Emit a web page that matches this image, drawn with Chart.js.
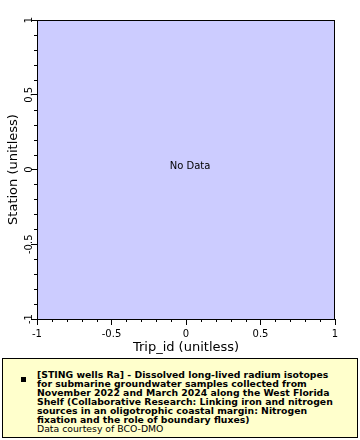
<!DOCTYPE html>
<html>
<head>
<meta charset="utf-8">
<script src="https://cdn.jsdelivr.net/npm/chart.js@4/dist/chart.umd.min.js"></script>
<style>
  html, body { margin: 0; padding: 0; background: #fff; }
  #wrap { position: relative; width: 360px; height: 440px; }
  #chartBox { position: absolute; left: 0; top: 0; width: 360px; height: 355px; }
  #legend {
    position: absolute; left: 2px; top: 358px; width: 354px; height: 78px;
    background: #ffffcc; border: 1px solid #000;
    font-family: "DejaVu Sans", sans-serif; font-size: 9.3px; line-height: 9px;
  }
  #legend .mark { position: absolute; left: 18px; top: 18px; width: 5px; height: 5px; background: #000; }
  #legend .txt { position: absolute; left: 34px; top: 11px; width: 320px; white-space: nowrap; }
  #legend b { font-weight: bold; }
</style>
</head>
<body>
<div id="wrap">
  <div id="chartBox"><canvas id="chart" width="360" height="355"></canvas></div>
  <div id="legend">
    <div class="mark"></div>
    <div class="txt"><b>[STING wells Ra] - Dissolved long-lived radium isotopes<br>for submarine groundwater samples collected from<br>November 2022 and March 2024 along the West Florida<br>Shelf (Collaborative Research: Linking iron and nitrogen<br>sources in an oligotrophic coastal margin: Nitrogen<br>fixation and the role of boundary fluxes)</b><br>Data courtesy of BCO-DMO</div>
  </div>
</div>
<script>
// Data (empty - the dataset has no points)
const tripIds = [];
const stations = [];
const axisMin = -1;
const axisMax = 1;
const majorTicks = [-1, -0.5, 0, 0.5, 1];

const points = tripIds.map((t, i) => ({ x: t, y: stations[i] }));

function isMajor(v) {
    return majorTicks.some(m => Math.abs(m - v) < 1e-6);
}

function fmt(v) {
    if (Math.abs(v) < 1e-9) return '0';
    return String(Math.round(v * 10) / 10);
}

// Plot background, frame, minor ticks, rotated y labels and "No Data" label
const framePlugin = {
    id: 'frame',
    beforeDraw(chart) {
        const { ctx, chartArea: a } = chart;
        ctx.save();
        ctx.fillStyle = '#ccccff';
        ctx.fillRect(a.left, a.top, a.right - a.left, a.bottom - a.top);
        ctx.restore();
    },
    afterDraw(chart) {
        const { ctx, chartArea: a, scales } = chart;
        ctx.save();
        ctx.strokeStyle = '#000';
        ctx.lineWidth = 1;
        ctx.strokeRect(a.left + 0.5, a.top + 0.5, a.right - a.left - 1, a.bottom - a.top);
        // minor ticks
        ctx.beginPath();
        for (let i = 0; i <= 20; i++) {
            const v = axisMin + i * 0.1;
            if (isMajor(v)) continue;
            const px = Math.round(scales.x.getPixelForValue(v)) + 0.5;
            ctx.moveTo(px, a.bottom);
            ctx.lineTo(px, a.bottom + 3);
            const py = Math.round(scales.y.getPixelForValue(v)) + 0.5;
            ctx.moveTo(a.left, py);
            ctx.lineTo(a.left - 3, py);
        }
        ctx.stroke();
        // y tick labels, reading bottom to top
        ctx.fillStyle = '#000';
        ctx.font = '10px "DejaVu Sans"';
        ctx.textAlign = 'center';
        ctx.textBaseline = 'alphabetic';
        majorTicks.forEach(v => {
            const py = scales.y.getPixelForValue(v);
            ctx.save();
            ctx.translate(a.left - 5, py);
            ctx.rotate(-Math.PI / 2);
            ctx.fillText(fmt(v), 0, 0);
            ctx.restore();
        });
        if (points.length === 0) {
            ctx.textBaseline = 'middle';
            ctx.fillText('No Data', (a.left + a.right) / 2 + 4, (a.top + a.bottom) / 2 - 3);
        }
        ctx.restore();
    }
};

const tickFont = { family: 'DejaVu Sans', size: 10 };
const titleFont = { family: 'DejaVu Sans', size: 13 };

new Chart(document.getElementById('chart'), {
    type: 'scatter',
    data: {
        datasets: [{
            label: 'STING wells Ra',
            data: points,
            backgroundColor: '#000',
            pointStyle: 'rect',
            pointRadius: 2
        }]
    },
    options: {
        responsive: false,
        animation: false,
        layout: { padding: { top: 20, right: 25, left: 0, bottom: 0 } },
        plugins: { legend: { display: false }, tooltip: { enabled: false } },
        scales: {
            x: {
                type: 'linear',
                min: axisMin,
                max: axisMax,
                afterFit(scale) { scale.height = 36; },
                afterBuildTicks(scale) { scale.ticks = majorTicks.map(v => ({ value: v })); },
                border: { color: '#000', width: 1 },
                grid: { drawOnChartArea: false, tickLength: 6, tickColor: '#000' },
                ticks: { color: '#000', font: tickFont, padding: 3, maxRotation: 0, callback: v => fmt(v) },
                title: { display: true, text: 'Trip_id (unitless)', color: '#000', font: titleFont, padding: { top: 0, bottom: 0 } }
            },
            y: {
                type: 'linear',
                min: axisMin,
                max: axisMax,
                afterFit(scale) { scale.width = 37; },
                afterBuildTicks(scale) { scale.ticks = majorTicks.map(v => ({ value: v })); },
                border: { color: '#000', width: 1 },
                grid: { drawOnChartArea: false, tickLength: 6, tickColor: '#000' },
                ticks: { display: false },
                title: { display: true, text: 'Station (unitless)', color: '#000', font: titleFont, padding: { top: 6, bottom: 0 } }
            }
        }
    },
    plugins: [framePlugin]
});
</script>
</body>
</html>
